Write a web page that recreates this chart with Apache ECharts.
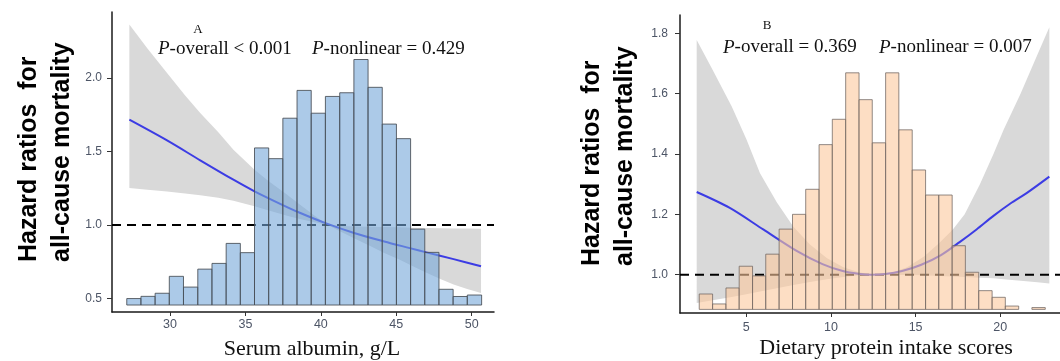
<!DOCTYPE html>
<html>
<head>
<meta charset="utf-8">
<script src="https://cdn.jsdelivr.net/npm/echarts@6/dist/echarts.min.js"></script>
<style>
html,body{margin:0;padding:0;background:#fff;}
#chart{width:1060px;height:361px;}
</style>
</head>
<body>
<div id="chart"></div>
<script>
// ---------- Panel A: Serum albumin ----------
const albuminBinEdges = [27.13, 28.07, 29.01, 29.95, 30.89, 31.84, 32.78, 33.72, 34.66, 35.60, 36.54, 37.48, 38.42, 39.36, 40.30, 41.25, 42.19, 43.13, 44.07, 45.01, 45.95, 46.89, 47.83, 48.77, 49.71, 50.66];
const albuminBarTops = [0.500, 0.515, 0.536, 0.651, 0.578, 0.700, 0.739, 0.875, 0.812, 1.524, 1.451, 1.726, 1.915, 1.760, 1.874, 1.899, 2.125, 1.936, 1.686, 1.587, 0.972, 0.814, 0.563, 0.514, 0.524];
const albuminBarBase = 0.456;
const albuminCurveX = [27.3, 29.8, 32.0, 34.2, 35.6, 37.3, 38.6, 40.4, 42.2, 44.2, 45.9, 47.0, 48.8, 50.62];
const albuminCurveHR = [1.716, 1.575, 1.440, 1.308, 1.229, 1.144, 1.083, 1.009, 0.946, 0.888, 0.843, 0.814, 0.768, 0.720];
const albuminBandX = [27.3, 28.5, 29.8, 31.0, 32.0, 33.2, 34.2, 35.6, 36.5, 37.7, 38.6, 39.5, 40.45, 41.3, 42.2, 43.2, 44.2, 45.2, 46.0, 47.0, 48.0, 48.8, 49.7, 50.62];
const albuminBandHi = [2.363, 2.200, 2.034, 1.880, 1.762, 1.630, 1.512, 1.376, 1.300, 1.210, 1.140, 1.070, 1.000, 0.995, 0.990, 0.988, 0.986, 0.984, 0.982, 0.980, 0.978, 0.977, 0.976, 0.975];
const albuminBandLo = [1.252, 1.240, 1.228, 1.215, 1.203, 1.185, 1.165, 1.127, 1.100, 1.065, 1.040, 1.020, 1.000, 0.955, 0.910, 0.860, 0.810, 0.765, 0.725, 0.675, 0.630, 0.595, 0.565, 0.537];
const albuminXTicks = [30, 35, 40, 45, 50];
const albuminYTicks = [0.5, 1.0, 1.5, 2.0];

// ---------- Panel B: Dietary protein intake scores ----------
const proteinBinEdges = [2.22, 3.01, 3.80, 4.58, 5.37, 6.15, 6.94, 7.73, 8.51, 9.30, 10.08, 10.87, 11.66, 12.44, 13.23, 14.01, 14.80, 15.59, 16.37, 17.16, 17.94, 18.73, 19.52, 20.30, 21.09, 21.87, 22.66];
const proteinBarTops = [0.936, 0.903, 0.956, 1.028, 0.996, 1.068, 1.151, 1.200, 1.283, 1.431, 1.515, 1.669, 1.580, 1.437, 1.669, 1.480, 1.347, 1.264, 1.264, 1.096, 1.008, 0.947, 0.925, 0.896, 0.885, 0.891];
const proteinBarBase = 0.885;
const proteinCurveX = [2.07, 4.0, 6.0, 8.0, 9.5, 10.7, 11.6, 12.4, 13.2, 14.2, 15.3, 16.5, 17.6, 18.6, 19.6, 20.6, 21.6, 22.9];
const proteinCurveHR = [1.274, 1.222, 1.150, 1.078, 1.035, 1.012, 1.003, 1.000, 1.002, 1.012, 1.032, 1.065, 1.108, 1.150, 1.195, 1.236, 1.272, 1.325];
const proteinBandX = [2.07, 3.0, 4.14, 5.0, 5.81, 6.8, 7.78, 8.76, 9.75, 10.73, 11.7, 12.6, 13.5, 14.5, 15.5, 16.4, 17.2, 17.9, 18.8, 19.6, 20.2, 21.2, 22.2, 22.9];
const proteinBandHi = [1.778, 1.680, 1.557, 1.450, 1.336, 1.240, 1.159, 1.100, 1.055, 1.025, 1.007, 1.000, 1.005, 1.025, 1.060, 1.105, 1.150, 1.200, 1.300, 1.400, 1.480, 1.600, 1.730, 1.820];
const proteinBandLo = [0.906, 0.915, 0.926, 0.935, 0.944, 0.955, 0.966, 0.976, 0.985, 0.992, 0.998, 1.000, 1.000, 0.999, 0.998, 0.996, 0.994, 0.992, 0.990, 0.988, 0.985, 0.980, 0.975, 0.971];
const proteinXTicks = [5, 10, 15, 20];
const proteinYTicks = [1.0, 1.2, 1.4, 1.6, 1.8];

const refHR = 1.0;

// axis ranges (px layout matched to reference)
const A = {xmin: 26.15, xmax: 51.48, ymin: 0.4086, ymax: 2.448};
const B = {xmin: 1.084, xmax: 23.53, ymin: 0.873, ymax: 1.8606};

const labelColor = '#4d5566';
const chart = echarts.init(document.getElementById('chart'), null, {renderer: 'canvas'});

function xAxisCfg(gi, r, ticks, margin) {
  return {
    type: 'value', gridIndex: gi, min: r.xmin, max: r.xmax,
    axisLine: {show: true, onZero: false, lineStyle: {color: '#1a1a1a', width: 1.5}},
    axisTick: {show: true, length: 4, lineStyle: {color: '#333', width: 1}, customValues: ticks},
    axisLabel: {show: true, customValues: ticks, margin: margin, color: labelColor,
      fontFamily: 'Liberation Sans', fontSize: 12.5, formatter: v => String(v)},
    splitLine: {show: false}
  };
}
function yAxisCfg(gi, r, ticks, margin) {
  return {
    type: 'value', gridIndex: gi, min: r.ymin, max: r.ymax,
    axisLine: {show: true, onZero: false, lineStyle: {color: '#1a1a1a', width: 1.5}},
    axisTick: {show: true, length: 5, lineStyle: {color: '#333', width: 1}, customValues: ticks},
    axisLabel: {show: true, customValues: ticks, margin: margin, color: labelColor,
      fontFamily: 'Liberation Sans', fontSize: 12, formatter: v => v.toFixed(1)},
    splitLine: {show: false}
  };
}

// confidence band: polygon through upper bound then lower bound (reversed)
function bandSeries(idx, xs, lo, hi) {
  return {type: 'custom', xAxisIndex: idx, yAxisIndex: idx, z: 1, silent: true,
    data: [[xs[0], lo[0]]],
    renderItem: function (params, api) {
      const pts = [];
      for (let i = 0; i < xs.length; i++) pts.push(api.coord([xs[i], hi[i]]));
      for (let i = xs.length - 1; i >= 0; i--) pts.push(api.coord([xs[i], lo[i]]));
      return {type: 'polygon', shape: {points: pts}, style: {fill: '#d9d9d9', stroke: null}};
    }};
}

function refLine(idx, r) {
  return {type: 'line', xAxisIndex: idx, yAxisIndex: idx, data: [[r.xmin, refHR], [r.xmax, refHR]],
    showSymbol: false, silent: true, z: 2,
    lineStyle: {color: '#000', width: 2, type: [9, 6]}};
}

function curveSeries(idx, xs, ys) {
  return {type: 'line', xAxisIndex: idx, yAxisIndex: idx, data: xs.map((x, i) => [x, ys[i]]),
    smooth: 0.3, showSymbol: false, silent: true, z: 3,
    lineStyle: {color: '#3c3ce4', width: 2}};
}

function histSeries(idx, edges, tops, base, fill, stroke) {
  const data = tops.map((t, i) => [edges[i], edges[i + 1], t]);
  return {type: 'custom', xAxisIndex: idx, yAxisIndex: idx, z: 4, silent: true,
    data: data,
    renderItem: function (params, api) {
      const x0 = api.value(0), x1 = api.value(1), top = api.value(2);
      if (top <= base + 1e-6) return null;
      const p0 = api.coord([x0, top]);
      const p1 = api.coord([x1, base]);
      return {type: 'rect',
        shape: {x: p0[0], y: p0[1], width: p1[0] - p0[0], height: p1[1] - p0[1]},
        style: {fill: fill, stroke: stroke, lineWidth: 1}};
    }};
}

const serif = 'Liberation Serif';
function pText(x, y, str) {
  return {type: 'text', x: x, y: y, z: 100,
    style: {text: str, fontFamily: serif, fontSize: 19, fill: '#111', align: 'left', verticalAlign: 'middle',
      rich: {i: {fontStyle: 'italic', fontFamily: serif, fontSize: 19, fill: '#111'}}}};
}
function vTitle(x, y, str) {
  return {type: 'text', x: x, y: y, rotation: Math.PI / 2, z: 100,
    style: {text: str, fontFamily: 'Liberation Sans', fontWeight: 'bold', fontSize: 25, fill: '#000',
      align: 'left', verticalAlign: 'middle'}};
}

const option = {
  animation: false,
  backgroundColor: '#ffffff',
  grid: [
    {left: 112, top: 12, width: 382, height: 300, containLabel: false},
    {left: 680, top: 15, width: 380, height: 298, containLabel: false}
  ],
  xAxis: [xAxisCfg(0, A, albuminXTicks, 6), xAxisCfg(1, B, proteinXTicks, 8)],
  yAxis: [yAxisCfg(0, A, albuminYTicks, 10), yAxisCfg(1, B, proteinYTicks, 12)],
  series: [
    bandSeries(0, albuminBandX, albuminBandLo, albuminBandHi),
    refLine(0, A),
    curveSeries(0, albuminCurveX, albuminCurveHR),
    histSeries(0, albuminBinEdges, albuminBarTops, albuminBarBase, 'rgba(117,167,217,0.6)', 'rgba(70,76,84,0.85)'),
    bandSeries(1, proteinBandX, proteinBandLo, proteinBandHi),
    refLine(1, B),
    curveSeries(1, proteinCurveX, proteinCurveHR),
    histSeries(1, proteinBinEdges, proteinBarTops, proteinBarBase, 'rgba(252,200,157,0.6)', 'rgba(110,100,96,0.75)')
  ],
  graphic: [
    {type: 'text', x: 198, y: 30, z: 100, style: {text: 'A', fontFamily: serif, fontSize: 13, fill: '#111', align: 'center', verticalAlign: 'middle'}},
    pText(158, 49, '{i|P}-overall < 0.001'),
    pText(312, 49, '{i|P}-nonlinear = 0.429'),
    {type: 'text', x: 767, y: 26, z: 100, style: {text: 'B', fontFamily: serif, fontSize: 13, fill: '#111', align: 'center', verticalAlign: 'middle'}},
    pText(723, 47.5, '{i|P}-overall = 0.369'),
    pText(879, 47.5, '{i|P}-nonlinear = 0.007'),
    {type: 'text', x: 312, y: 349.5, z: 100, style: {text: 'Serum albumin, g/L', fontFamily: serif, fontSize: 22, fill: '#111', align: 'center', verticalAlign: 'middle'}},
    {type: 'text', x: 886, y: 348, z: 100, style: {text: 'Dietary protein intake scores', fontFamily: serif, fontSize: 22, fill: '#111', align: 'center', verticalAlign: 'middle'}},
    vTitle(29, 262, 'Hazard ratios  for'),
    vTitle(62, 262, 'all-cause mortality'),
    vTitle(592, 266, 'Hazard ratios  for'),
    vTitle(625, 266, 'all-cause mortality')
  ]
};
chart.setOption(option);
</script>
</body>
</html>
